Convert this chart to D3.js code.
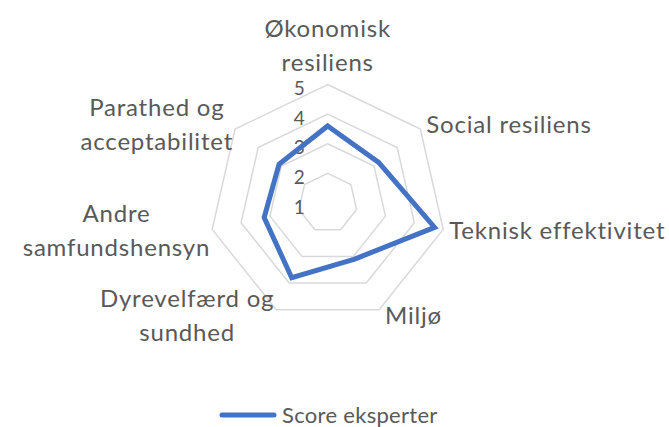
<!DOCTYPE html>
<html><head><meta charset="utf-8">
<script src="https://cdn.jsdelivr.net/npm/d3@7"></script>
<style>
  body { margin: 0; background: #fff; }
  text { font-family: Lato, "Open Sans", sans-serif; fill: #595959; }
</style>
</head><body>
<svg width="669" height="427"></svg>
<script>
const width = 669, height = 427;
const svg = d3.select("svg");

// Data
const categories = [
  ["Økonomisk", "resiliens"],
  ["Social resiliens"],
  ["Teknisk effektivitet"],
  ["Miljø"],
  ["Dyrevelfærd og", "sundhed"],
  ["Andre", "samfundshensyn"],
  ["Parathed og", "acceptabilitet"]
];
const scores = [3.6, 3.2, 4.7, 3.1, 3.8, 3.2, 3.1];
const tickValues = [1, 2, 3, 4, 5];
const seriesName = "Score eksperter";

const cx = 327.7, cy = 203, R = 118.5;
const n = categories.length;

const r = d3.scaleLinear().domain([1, 5]).range([0, R]);
const angle = d3.scaleLinear().domain([0, n]).range([0, 2 * Math.PI]);

const g = svg.append("g").attr("transform", `translate(${cx},${cy})`);

// Grid rings (value 1 is the centre)
const ring = d3.lineRadial()
  .angle((d, i) => angle(i))
  .radius(d => r(d))
  .curve(d3.curveLinearClosed);

g.selectAll("path.ring")
  .data(tickValues.filter(v => v > 1))
  .enter().append("path")
  .attr("class", "ring")
  .attr("d", v => ring(d3.range(n).map(() => v)))
  .attr("fill", "none")
  .attr("stroke", "#d9d9d9")
  .attr("stroke-width", 1.5);

// Tick labels
g.selectAll("text.tick")
  .data(tickValues)
  .enter().append("text")
  .attr("class", "tick")
  .attr("x", -23)
  .attr("y", v => -r(v) + 4)
  .attr("dy", "0.35em")
  .attr("text-anchor", "end")
  .style("font-size", "19px")
  .text(d => d);

// Series
const series = d3.lineRadial()
  .angle((d, i) => angle(i))
  .radius(d => r(d))
  .curve(d3.curveLinearClosed);

g.append("path")
  .datum(scores)
  .attr("d", series)
  .attr("fill", "none")
  .attr("stroke", "#4472C4")
  .attr("stroke-width", 5)
  .attr("stroke-linejoin", "miter");

// Category labels, placed around the outer ring
const lineH = 34;
const fontSize = 24;
categories.forEach((lines, i) => {
  const a = angle(i);
  const vx = R * Math.sin(a), vy = -R * Math.cos(a);
  const lab = g.append("g");
  const ts = lines.map(l => lab.append("text")
    .style("font-size", fontSize + "px")
    .style("letter-spacing", "0.8px")
    .attr("text-anchor", "middle")
    .text(l));
  const wMax = d3.max(ts, t => t.node().getComputedTextLength());
  const s = Math.sin(a);
  let bx;
  if (Math.abs(s) < 0.1) bx = vx;
  else if (s > 0) bx = vx + 6 + wMax / 2;
  else bx = vx - 2 - wMax / 2;
  const blockH = lines.length * lineH;
  let top;
  if (Math.abs(s) < 0.1) top = vy - 5 - blockH;
  else top = vy - Math.cos(a) * 7 - blockH / 2;
  ts.forEach((t, k) => t.attr("x", bx).attr("y", top + k * lineH + lineH / 2).attr("dy", "0.35em"));
});

// Legend
const legend = svg.append("g").attr("transform", "translate(222,415)");
legend.append("line")
  .attr("x1", 0).attr("x2", 52)
  .attr("stroke", "#4472C4").attr("stroke-width", 5).attr("stroke-linecap", "round");
legend.append("text")
  .attr("x", 60).attr("dy", "0.35em")
  .style("font-size", "22px")
  .style("letter-spacing", "0.3px")
  .text(seriesName);
</script></body></html>
